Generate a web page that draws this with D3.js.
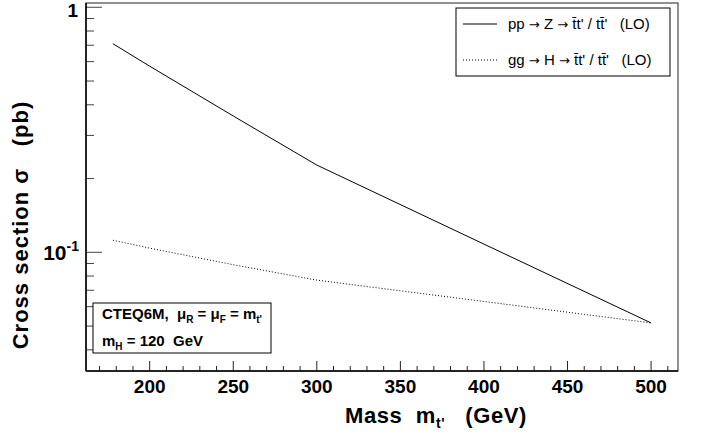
<!DOCTYPE html>
<html>
<head>
<meta charset="utf-8">
<script src="https://cdn.jsdelivr.net/npm/d3@7"></script>
<style>
  body { margin: 0; background: #fff; }
  svg { display: block; font-family: "Liberation Sans", Arial, sans-serif; }
</style>
</head>
<body>
<div id="chart"></div>
<script>
// masses (GeV) and cross sections (pb)
var masses = [178, 200, 250, 300, 400, 500];
var ppZ = [0.71, 0.575, 0.36, 0.227, 0.108, 0.0515];
var ggH = [0.112, 0.104, 0.089, 0.077, 0.063, 0.0515];
var xTicks = [200, 250, 300, 350, 400, 450, 500];
var yMajor = [1, 0.1];
var yMinor = [0.9, 0.8, 0.7, 0.6, 0.5, 0.4, 0.3, 0.2, 0.09, 0.08, 0.07, 0.06, 0.05, 0.04];

var W = 701, H = 439;
var margin = {top: 3, right: 23, bottom: 68, left: 86},
    width = W - margin.left - margin.right,
    height = H - margin.top - margin.bottom;

var x = d3.scaleLinear()
    .domain([161.9, 516.1])
    .range([0, width]);

var y = d3.scaleLog()
    .domain([0.03278, 1.041])
    .range([height, 0]);

var svg = d3.select("#chart").append("svg")
    .attr("width", W)
    .attr("height", H)
  .append("g")
    .attr("transform", "translate(" + margin.left + "," + margin.top + ")");

// frame
svg.append("rect")
    .attr("width", width)
    .attr("height", height)
    .attr("fill", "none")
    .attr("stroke", "#222")
    .attr("stroke-width", 1);

// x ticks (inside), minor every 10 GeV
var xMinor = d3.range(170, 516, 10);
svg.append("g").selectAll("line")
    .data(xMinor)
    .enter().append("line")
    .attr("x1", function(d) { return x(d); })
    .attr("x2", function(d) { return x(d); })
    .attr("y1", height)
    .attr("y2", function(d) { return d % 50 === 0 ? height - 10 : height - 5; })
    .attr("stroke", "#222")
    .attr("stroke-width", 1);

svg.append("g").selectAll("text")
    .data(xTicks)
    .enter().append("text")
    .attr("x", function(d) { return x(d); })
    .attr("y", height + 22)
    .attr("text-anchor", "middle")
    .attr("font-weight", "bold")
    .attr("font-size", 19)
    .text(function(d) { return d; });

// y ticks (inside)
svg.append("g").selectAll("line")
    .data(yMajor.concat(yMinor))
    .enter().append("line")
    .attr("x1", 0)
    .attr("x2", function(d) { return yMajor.indexOf(d) >= 0 ? 16 : 8; })
    .attr("y1", function(d) { return y(d); })
    .attr("y2", function(d) { return y(d); })
    .attr("stroke", "#444")
    .attr("stroke-width", 1);

svg.append("text")
    .attr("x", -8)
    .attr("y", y(1) + 10)
    .attr("text-anchor", "end")
    .attr("font-weight", "bold")
    .attr("font-size", 19)
    .text("1");

var t10 = svg.append("text")
    .attr("x", -7)
    .attr("y", y(0.1) + 8)
    .attr("text-anchor", "end")
    .attr("font-weight", "bold")
    .attr("font-size", 21);
t10.append("tspan").text("10");
t10.append("tspan").attr("dy", -9).attr("font-size", 14).text("-1");

// axis lines a bit heavier on left and bottom
svg.append("line").attr("x1", 0).attr("x2", 0).attr("y1", 0).attr("y2", height)
    .attr("stroke", "#000").attr("stroke-width", 1.5);
svg.append("line").attr("x1", 0).attr("x2", width).attr("y1", height).attr("y2", height)
    .attr("stroke", "#000").attr("stroke-width", 1.5);

// curves
var line = d3.line()
    .x(function(d) { return x(d[0]); })
    .y(function(d) { return y(d[1]); });

svg.append("path")
    .datum(d3.zip(masses, ppZ))
    .attr("d", line)
    .attr("fill", "none")
    .attr("stroke", "#000")
    .attr("stroke-width", 1);

svg.append("path")
    .datum(d3.zip(masses, ggH))
    .attr("d", line)
    .attr("fill", "none")
    .attr("stroke", "#000")
    .attr("stroke-width", 1)
    .attr("stroke-dasharray", "1,2");

// axis titles
var xt = svg.append("text")
    .attr("x", 259)
    .attr("y", height + 52)
    .attr("font-weight", "bold")
    .attr("font-size", 22)
    .attr("letter-spacing", 0.6)
    .style("white-space", "pre");
xt.append("tspan").text("Mass  m");
xt.append("tspan").attr("dy", 5).attr("font-size", 14).text("t'");
xt.append("tspan").attr("dy", -5).text("   (GeV)");

svg.append("text")
    .attr("transform", "translate(" + (-58) + "," + 222 + ") rotate(-90)")
    .attr("text-anchor", "middle")
    .attr("font-weight", "bold")
    .attr("font-size", 22)
    .attr("letter-spacing", 1)
    .style("white-space", "pre")
    .text("Cross section \u03c3   (pb)");

// legend
var legend = svg.append("g")
    .attr("transform", "translate(" + (456 - margin.left) + "," + (8 - margin.top) + ")");

legend.append("rect")
    .attr("width", 214)
    .attr("height", 68)
    .attr("fill", "#fff")
    .attr("stroke", "#000")
    .attr("stroke-width", 1);

var entries = [
  {a: "pp", b: "Z", dash: null},
  {a: "gg", b: "H", dash: "1,2"}
];

var item = legend.selectAll(".item")
    .data(entries)
    .enter().append("g")
    .attr("class", "item")
    .attr("transform", function(d, i) { return "translate(0," + (16 + i * 36) + ")"; });

item.append("line")
    .attr("x1", 7).attr("x2", 41)
    .attr("stroke", "#000")
    .attr("stroke-width", 1)
    .attr("stroke-dasharray", function(d) { return d.dash; });

var lt = item.append("text")
    .attr("x", 52)
    .attr("y", 5)
    .attr("font-size", 15)
    .style("white-space", "pre");
lt.append("tspan").text(function(d) { return d.a + " "; });
lt.append("tspan").attr("font-family", "DejaVu Sans").attr("font-size", 13).text("\u2192");
lt.append("tspan").text(function(d) { return " " + d.b + " "; });
lt.append("tspan").attr("font-family", "DejaVu Sans").attr("font-size", 13).text("\u2192");
lt.append("tspan").text(" t\u0304t' / tt\u0304'   (LO)");

// info box
var info = svg.append("g")
    .attr("transform", "translate(" + (93 - margin.left) + "," + (303 - margin.top) + ")");

info.append("rect")
    .attr("width", 178)
    .attr("height", 50)
    .attr("fill", "#fff")
    .attr("stroke", "#000")
    .attr("stroke-width", 1);

var l1 = info.append("text")
    .attr("x", 9).attr("y", 16)
    .attr("font-weight", "bold")
    .attr("font-size", 15)
    .style("white-space", "pre");
l1.append("tspan").text("CTEQ6M,  \u03bc");
l1.append("tspan").attr("dy", 4).attr("font-size", 10).text("R");
l1.append("tspan").attr("dy", -4).text(" = \u03bc");
l1.append("tspan").attr("dy", 4).attr("font-size", 10).text("F");
l1.append("tspan").attr("dy", -4).text(" = m");
l1.append("tspan").attr("dy", 4).attr("font-size", 10).text("t'");

var l2 = info.append("text")
    .attr("x", 9).attr("y", 43)
    .attr("font-weight", "bold")
    .attr("font-size", 15)
    .style("white-space", "pre");
l2.append("tspan").text("m");
l2.append("tspan").attr("dy", 4).attr("font-size", 10).text("H");
l2.append("tspan").attr("dy", -4).text(" = 120  GeV");
</script>
</body>
</html>
